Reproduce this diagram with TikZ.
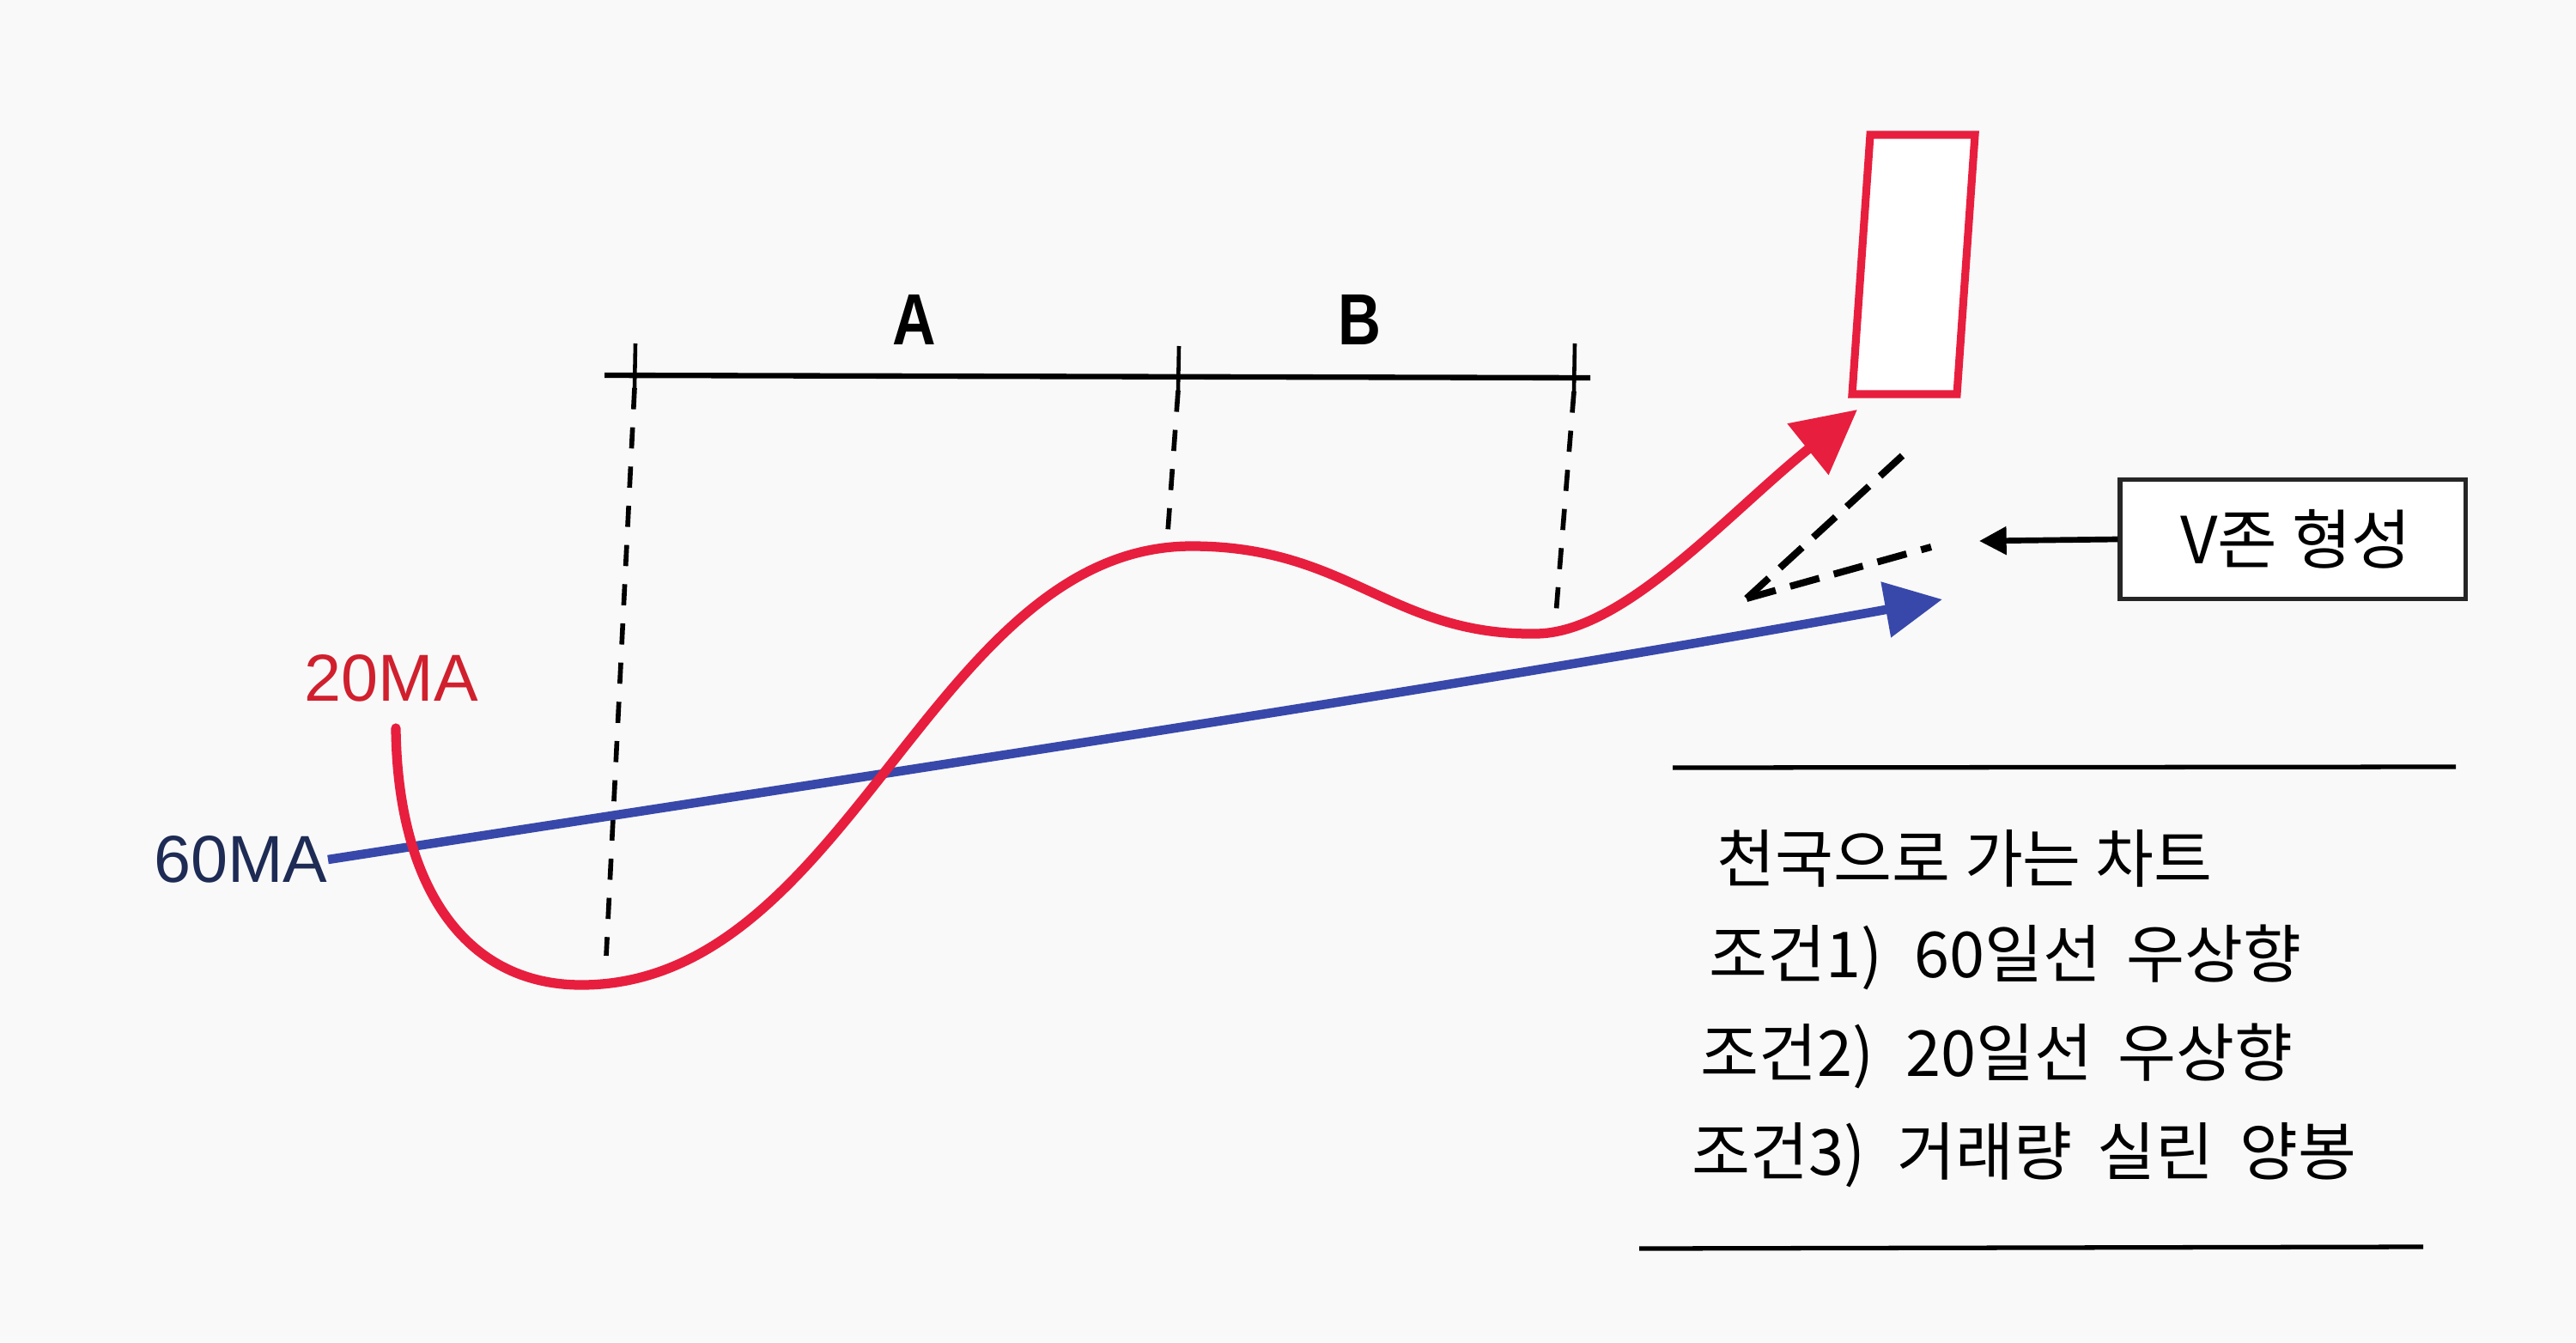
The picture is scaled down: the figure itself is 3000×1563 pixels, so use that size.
\documentclass[tikz,border=0pt]{standalone}
\usepackage{fontspec}
\setmainfont{Liberation Sans}
\newfontfamily\kr{Noto Sans CJK KR}
\usetikzlibrary{arrows.meta}
\definecolor{redma}{HTML}{E81E3E}
\definecolor{bluema}{HTML}{3848AA}
\definecolor{navy}{HTML}{1E2B55}
\definecolor{redlab}{HTML}{D0202E}
\definecolor{bgc}{HTML}{F9F9F9}
\newcommand{\wsp}{\hspace{0.4em}}
\begin{document}
\begin{tikzpicture}[x=0.01cm,y=-0.01cm,
  malab/.style={font=\fontsize{22pt}{26pt}\selectfont, inner sep=0pt},
  ablab/.style={font=\fontsize{24pt}{28pt}\selectfont\bfseries, inner sep=0pt},
  vline/.style={line width=1.6pt, dash pattern=on 7pt off 6pt},
  vdash/.style={line width=2.3pt, dash pattern=on 10pt off 5pt},
  redline/.style={draw=redma, line width=3.2pt, line cap=round},
  blueline/.style={draw=bluema, line width=3pt},
  vbox/.style={draw=black!85, line width=1.5pt, fill=white, minimum width=4.02cm, minimum height=1.39cm, inner sep=0pt, font=\kr\fontsize{21.5pt}{25pt}\selectfont},
  krtext/.style={anchor=west, inner sep=0pt, font=\kr\fontsize{21pt}{25pt}\selectfont}
]
\fill[bgc] (0,0) rectangle (3000,1563);
\useasboundingbox (0,0) rectangle (3000,1563);

% A-B scale
\coordinate (ab0) at (704,437);
\coordinate (ab1) at (1852,440);
\draw[line width=1.8pt] (ab0) -- (ab1);
\coordinate (t1a) at (740,400); \coordinate (t1b) at (739,452);
\coordinate (t2a) at (1373,403); \coordinate (t2b) at (1372,455);
\coordinate (t3a) at (1834,400); \coordinate (t3b) at (1833,456);
\draw[line width=1.3pt] (t1a) -- (t1b);
\draw[line width=1.3pt] (t2a) -- (t2b);
\draw[line width=1.3pt] (t3a) -- (t3b);
\node[ablab] (A) at (1065,372) {\scalebox{0.83}[1]{A}};
\node[ablab] (B) at (1583,372) {\scalebox{0.82}[1]{B}};

% vertical dashed guides
\coordinate (d1b) at (706,1113);
\coordinate (d2b) at (1359,633);
\coordinate (d3b) at (1811,728);
\draw[vline] (t1b) -- (d1b);
\draw[vline] (t2b) -- (d2b);
\draw[vline] (t3b) -- (d3b);

% 60MA (blue)
\node[malab, text=navy, anchor=east] (l60) at (382,1001) {60MA};
\coordinate (b1) at (2262,698);
\draw[blueline, -{Triangle[length=19pt,width=18pt]}] (l60.east) .. controls (1000,905) and (1700,800) .. (b1);

% 20MA (red)
\node[malab, text=redlab] (l20) at (456,790) {20MA};
\coordinate (r0) at (461,848);
\coordinate (r1) at (677,1147);
\coordinate (r2) at (1388,636);
\coordinate (r3) at (1788,738);
\coordinate (r4) at (2163,477);
\draw[redline, -{Triangle[length=21pt,width=21pt]}]
  (r0) .. controls (463,1030) and (540,1147) .. (r1)
       .. controls (990,1147) and (1085,636) .. (r2)
       .. controls (1570,636) and (1620,740) .. (r3)
       .. controls (1890,738) and (2010,600) .. (r4);

% candle
\draw[draw=redma, line width=2.6pt, fill=white] (2178,157) -- (2300,157) -- (2279,459) -- (2157,459) -- cycle;

% V zone dashed lines
\coordinate (v0) at (2034,697);
\coordinate (v1) at (2226,521);
\coordinate (v2) at (2249,637);
\draw[vdash] (v0) -- (v1);
\draw[vdash] (v0) -- (v2);

% V zone label
\node[vbox] (vz) at (2670,628) {\hspace{0.1em}V존 형성};
\coordinate (vtip) at (2305,630);
\draw[line width=1.9pt, -{Triangle[length=9pt,width=9pt]}] (vz.west) -- (vtip);

% conditions
\coordinate (s1a) at (1948,894); \coordinate (s1b) at (2860,893);
\coordinate (s2a) at (1909,1454); \coordinate (s2b) at (2822,1452);
\draw[line width=1.5pt] (s1a) -- (s1b);
\draw[line width=1.5pt] (s2a) -- (s2b);
\node[krtext] (c0) at (1999,1000) {천국으로 가는 차트};
\node[krtext] (c1) at (1990,1115) {조건1)\hspace{0.5em}60일선\wsp 우상향};
\node[krtext] (c2) at (1980,1230) {조건2)\hspace{0.5em}20일선\wsp 우상향};
\node[krtext] (c3) at (1970,1345) {조건3)\hspace{0.5em}거래량\wsp 실린\wsp 양봉};
\end{tikzpicture}
\end{document}
